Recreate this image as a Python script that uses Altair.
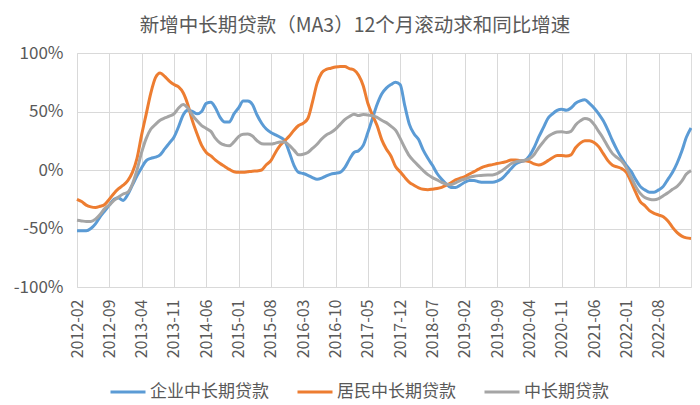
import altair as alt
import pandas as pd

# Monthly categories 2012-02 .. 2023-03
months = [str(p) for p in pd.period_range("2012-02", "2023-03", freq="M")]
tick_months = months[:127:7]

series_names = ["企业中长期贷款", "居民中长期贷款", "中长期贷款"]
series_colors = ["#5B9BD5", "#ED7D31", "#A5A5A5"]

# 企业中长期贷款 (%)
corp = [
    -52, -52, -52, -50, -46, -40, -35, -30, -25, -24,
    -26, -21, -13, -5, 2, 8, 10, 11, 13, 18,
    23, 28, 37, 47, 51, 50, 48, 50, 57, 58,
    53, 45, 41, 41, 48, 53, 59, 59, 56, 47,
    40, 35, 32, 30, 28, 25, 15, 4, -2, -3,
    -4.5, -6.5, -8, -7, -5, -3.5, -2.8, -2, 2, 9,
    15, 16.5, 21, 32, 44, 56, 65, 70, 73, 75,
    73, 55, 39, 31, 26, 17, 10, 4, -3, -8,
    -12, -15, -15, -13, -10.5, -9, -9, -10, -10.5, -10.5,
    -10.5, -9.5, -7.5, -3.5, 1, 5, 7, 8, 12, 19,
    28, 36, 44, 48, 51, 52, 51, 53, 57, 59,
    60, 57, 53, 48, 42, 34, 25, 17, 10, 4,
    -1, -8, -14, -17, -19, -19, -17, -14, -8, -2,
    6, 16, 28, 36,
]

# 居民中长期贷款 (%)
household = [
    -25, -27, -30, -31.5, -32, -31, -29.5, -25, -20, -16,
    -13, -9, -2, 10, 30, 48, 66, 79, 83, 80,
    76, 73, 71, 66, 56, 42, 31, 21, 15, 12,
    8.5, 5.5, 3, 0.5, -1.5, -2, -2, -1.5, -1, -0.8,
    0, 4.5, 8, 15, 21, 25, 29, 34, 38, 40,
    44, 58, 74, 83, 86, 87, 88, 88.5, 88.4, 86.7,
    85.5, 81, 72, 57, 47, 38, 26, 18, 12, 3,
    -1.5, -6.3, -10.5, -13, -15.2, -16.5, -16.8, -16.4, -15.8, -14.8,
    -13, -11, -8.5, -7, -5.7, -3.4, -1.4, 0.8, 2.7, 3.8,
    4.6, 5.5, 6.3, 7.2, 8.5, 8.6, 8, 8, 7.1, 5.2,
    4.3, 5.5, 8, 10.5, 12.5, 12.5, 12, 13, 19, 23,
    25, 25, 23.5, 20, 14, 8, 4, 2.6, 1.2, -2,
    -10, -19, -27, -30.5, -34.7, -37, -38.5, -40, -43.5, -49,
    -53.5, -56.5, -58, -58.5,
]

# 中长期贷款 (%)
total = [
    -43, -43.5, -44, -44, -42, -38, -33, -30, -26, -23,
    -20.5, -19, -12, 0, 15, 27, 35, 39, 42.5, 44.5,
    46, 48, 53, 56, 53, 47, 42, 38, 35.5, 33,
    27, 23, 21.3, 20.7, 24, 28.5, 30.5, 30.7, 29, 25,
    22.5, 22.2, 22.2, 23, 24, 24, 21, 17, 13, 13.5,
    15, 18.5, 22, 26.5, 30, 32, 35, 39, 43, 45.7,
    47.7, 46.5, 47.5, 47, 46.5, 45, 42.5, 40.5, 37.5, 34,
    27, 19, 12, 7.5, 3.5, -0.5, -4, -6.5, -8.5, -10.5,
    -12.2, -12.6, -11, -9, -7.7, -6.3, -5.4, -4.8, -4.4, -4.2,
    -4.3, -3.2, -0.8, 2.2, 5.3, 7, 7.8, 8.4, 9.6, 13,
    19, 24, 28.5, 31, 32.5, 32.7, 32, 33, 38.5, 42,
    44, 43, 39, 33, 27, 20, 14, 10.5, 7.5, 2,
    -6, -14, -20, -23.5, -25, -25.5, -24.5, -22, -19.5, -16.5,
    -14, -9.5, -3.5, -0.5,
]

frames = []
for name, vals in zip(series_names, [corp, household, total]):
    frames.append(pd.DataFrame({"month": months, "series": name, "value": vals}))
df = pd.concat(frames, ignore_index=True)

FONT = "Noto Sans CJK SC"
TXT = "#595959"
GRID = "#d9d9d9"

chart = (
    alt.Chart(df)
    .mark_line(strokeWidth=3, interpolate="monotone")
    .encode(
        x=alt.X(
            "month:O",
            scale=alt.Scale(type="point", padding=0),
            axis=alt.Axis(
                values=tick_months,
                labelAngle=-90,
                grid=True,
                gridColor=GRID,
                ticks=False,
                domain=False,
                labelPadding=12,
                labelFontSize=16,
                labelColor=TXT,
                labelFont=FONT,
                labelOverlap=False,
                title=None,
            ),
        ),
        y=alt.Y(
            "value:Q",
            scale=alt.Scale(domain=[-100, 100], nice=False),
            axis=alt.Axis(
                values=[-100, -50, 0, 50, 100],
                labelExpr="datum.value + '%'",
                grid=True,
                gridColor=GRID,
                ticks=False,
                domain=False,
                labelPadding=14,
                labelFontSize=17,
                labelColor=TXT,
                labelFont=FONT,
                title=None,
            ),
        ),
        color=alt.Color(
            "series:N",
            scale=alt.Scale(domain=series_names, range=series_colors),
            legend=alt.Legend(
                orient="none",
                legendX=32,
                legendY=320,
                direction="horizontal",
                symbolType="stroke",
                symbolSize=1225,
                symbolStrokeWidth=3,
                labelFontSize=17,
                labelColor=TXT,
                labelFont=FONT,
                columnPadding=22,
                labelOffset=3,
                padding=0,
                title=None,
            ),
        ),
    )
    .properties(
        width=614,
        height=234,
        autosize=alt.AutoSizeParams(type="none"),
        padding={"left": 69, "top": 45, "right": 1, "bottom": 117},
        title=alt.TitleParams(
            "新增中长期贷款（MA3）12个月滚动求和同比增速",
            fontSize=19.5,
            fontWeight="normal",
            font=FONT,
            color=TXT,
            anchor="middle",
            dx=-29,
            offset=8,
        ),
    )
    .configure_view(stroke=GRID)
    .configure(background="white")
)

chart.save("out.html", embed_options={"renderer": "svg", "actions": False})
